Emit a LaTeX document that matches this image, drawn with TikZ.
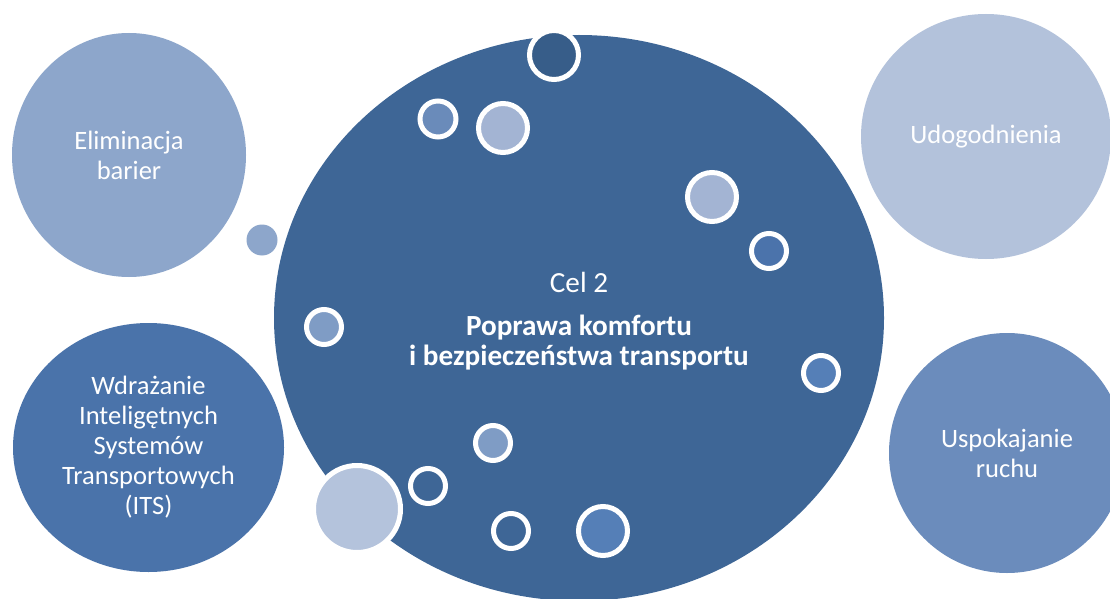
\documentclass[tikz,border=0pt]{standalone}
\usepackage{fontspec}
\setmainfont{Carlito}
\usetikzlibrary{shapes.geometric}
\definecolor{bigc}{HTML}{3E6696}
\definecolor{elimc}{HTML}{8DA6CB}
\definecolor{wdrc}{HTML}{4A73AA}
\definecolor{udoc}{HTML}{B3C2DB}
\definecolor{uspc}{HTML}{6B8CBC}
\definecolor{darkc}{HTML}{375D89}
\definecolor{lightc}{HTML}{A3B4D3}
\definecolor{medc}{HTML}{6A8BBA}
\definecolor{midc}{HTML}{4B73AB}
\definecolor{brightc}{HTML}{557FB7}
\definecolor{softc}{HTML}{7F9CC5}
\definecolor{paleC}{HTML}{B4C3DC}
\tikzset{
  blob/.style={ellipse, inner sep=0pt, text=white, align=center,
    font=\fontsize{19.9}{22.5}\selectfont},
  bubble/.style={circle, inner sep=0pt, draw=white, line width=3.75pt},
}
\begin{document}
\begin{tikzpicture}[x=0.75pt,y=-0.75pt]
\clip (0,0) rectangle (1110,599);
\fill[white] (0,0) rectangle (1110,599);
% outer circles
\node[blob, fill=elimc, minimum width=175.5pt, minimum height=183pt] (elim) at (129,155) {Eliminacja\\barier};
\node[blob, fill=wdrc, minimum width=203.25pt, minimum height=186.75pt] (wdr) at (148.5,447.5) {Wdrażanie\\Inteligętnych\\Systemów\\Transportowych\\(ITS)};
\node[blob, fill=udoc, minimum width=187.5pt, minimum height=183.75pt] (udo) at (986,136.5) {Udogodnienia};
\node[blob, fill=uspc, minimum width=177pt, minimum height=180pt] (usp) at (1007,453) {Uspokajanie\\ruchu};
\node[circle, inner sep=0pt, fill=elimc, minimum size=23.25pt] (tiny) at (262,240) {};
% central circle
\node[ellipse, inner sep=0pt, fill=bigc, minimum width=457.5pt, minimum height=424.5pt] (big) at (579,318) {};
% bubbles
\node[bubble, fill=darkc, minimum size=36.75pt] (b1) at (554,55) {};
\node[bubble, fill=medc, minimum size=27pt] (b2) at (438,119) {};
\node[bubble, fill=lightc, minimum size=36.75pt] (b3) at (503,128) {};
\node[bubble, fill=lightc, minimum size=36.75pt] (b4) at (712,197) {};
\node[bubble, fill=midc, minimum size=26.25pt] (b5) at (769,251) {};
\node[bubble, fill=softc, minimum size=26.25pt] (b6) at (324,327) {};
\node[bubble, fill=softc, minimum size=26.25pt] (b7) at (493,443) {};
\node[bubble, fill=bigc, minimum size=26.25pt] (b8) at (428,486) {};
\node[bubble, fill=paleC, minimum size=65.25pt] (b9) at (357,509) {};
\node[bubble, fill=bigc, minimum size=26.25pt] (b10) at (511,531) {};
\node[bubble, fill=brightc, minimum size=36.75pt] (b11) at (603,531) {};
\node[bubble, fill=brightc, minimum size=26.25pt] (b12) at (821,373) {};
% central text
\node[text=white, font=\fontsize{21.9}{22.5}\selectfont] (cel) at (579,282) {Cel 2};
\node[text=white, align=center, font=\fontsize{21.9}{22.5}\selectfont\bfseries] (goal) at (579,343) {Poprawa komfortu\\i bezpieczeństwa transportu};
\end{tikzpicture}
\end{document}
